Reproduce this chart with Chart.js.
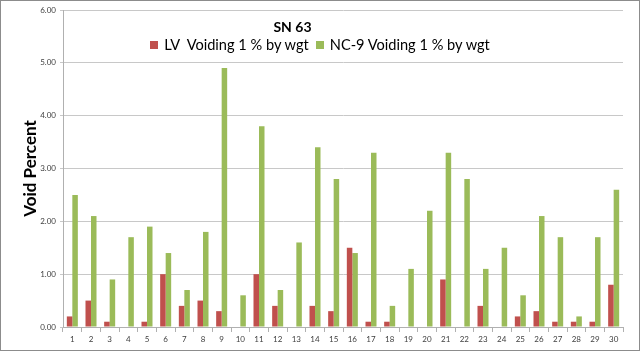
<!DOCTYPE html>
<html>
<head>
<meta charset="utf-8">
<script src="https://cdn.jsdelivr.net/npm/chart.js@4"></script>
<style>
html,body{margin:0;padding:0;background:#fff;}
#wrap{position:relative;width:640px;height:351px;box-sizing:border-box;border:1px solid #8c8c8c;}
canvas{display:block;}
#title{position:absolute;left:0;width:583px;top:17px;text-align:center;font:bold 14px Lato,'Liberation Sans',sans-serif;color:#000;}
#legend{position:absolute;left:0;width:638px;top:35px;text-align:center;font:14.6px Lato,'Liberation Sans',sans-serif;color:#000;white-space:pre;}
#legend span.item{display:inline-block;}
#legend i{display:inline-block;width:8px;height:8px;margin:0 6px 0 0;vertical-align:1px;}
</style>
</head>
<body>
<div id="wrap">
<canvas id="c" width="638" height="349"></canvas>
<div id="title">SN 63</div>
<div id="legend"></div>
</div>
<script>
const categories = ["1","2","3","4","5","6","7","8","9","10","11","12","13","14","15","16","17","18","19","20","21","22","23","24","25","26","27","28","29","30"];
const lvValues = [0.2,0.5,0.1,0,0.1,1.0,0.4,0.5,0.3,0,1.0,0.4,0,0.4,0.3,1.5,0.1,0.1,0,0,0.9,0,0.4,0,0.2,0.3,0.1,0.1,0.1,0.8];
const nc9Values = [2.5,2.1,0.9,1.7,1.9,1.4,0.7,1.8,4.9,0.6,3.8,0.7,1.6,3.4,2.8,1.4,3.3,0.4,1.1,2.2,3.3,2.8,1.1,1.5,0.6,2.1,1.7,0.2,1.7,2.6];
const seriesNames = ["LV  Voiding 1 % by wgt", "NC-9 Voiding 1 % by wgt"];
const seriesColors = ["#C0504D", "#9BBB59"];
const yTicks = [0,1,2,3,4,5,6];
const chartTitle = "SN 63";
const yTitle = "Void Percent";

document.getElementById('title').textContent = chartTitle;
const lg = document.getElementById('legend');
seriesNames.forEach((n,i)=>{
  const s = document.createElement('span'); s.className='item';
  s.style.marginRight = i===0 ? '7px' : '0';
  const b = document.createElement('i'); b.style.background = seriesColors[i];
  s.appendChild(b); s.appendChild(document.createTextNode(n)); lg.appendChild(s);
});

new Chart(document.getElementById('c'), {
  type: 'bar',
  data: {
    labels: categories,
    datasets: [
      {label: seriesNames[0], data: lvValues, backgroundColor: seriesColors[0], barPercentage: 1, categoryPercentage: 0.59},
      {label: seriesNames[1], data: nc9Values, backgroundColor: seriesColors[1], barPercentage: 1, categoryPercentage: 0.59}
    ]
  },
  options: {
    responsive: false,
    animation: false,
    layout: {padding: {top: 9, right: 16, bottom: 0, left: 0}},
    plugins: {legend: {display: false}, title: {display: false}, tooltip: {enabled: false}},
    scales: {
      x: {
        grid: {display: true, drawOnChartArea: false, drawTicks: true, tickLength: 5, color: '#b0b0b0', offset: true},
        border: {display: true, color: '#b0b0b0'},
        ticks: {color: '#404040', font: {family: 'Lato', size: 8}, padding: 3, maxRotation: 0, autoSkip: false},
        afterFit: s => { s.height = 23; }
      },
      y: {
        min: 0, max: 6,
        afterBuildTicks: s => { s.ticks = yTicks.map(v => ({value: v})); },
        grid: {color: '#c8c8c8', tickLength: 3, drawTicks: true},
        border: {display: true, color: '#b0b0b0'},
        ticks: {color: '#404040', font: {family: 'Lato', size: 8}, padding: 4, callback: v => Number(v).toFixed(2)},
        title: {display: true, text: yTitle, color: '#000', font: {family: 'Lato', size: 17, weight: 'bold'}, padding: {top: 19, bottom: 0}},
        afterFit: s => { s.width = 62; }
      }
    }
  }
});
</script>
</body>
</html>
